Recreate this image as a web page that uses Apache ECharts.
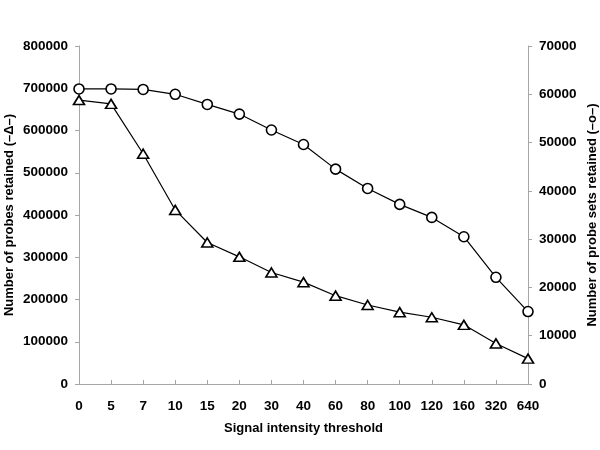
<!DOCTYPE html>
<html>
<head>
<meta charset="utf-8">
<script src="https://cdn.jsdelivr.net/npm/echarts@6/dist/echarts.min.js"></script>
<style>html,body{margin:0;padding:0;background:#fff}#c{width:600px;height:450px}</style>
</head>
<body>
<div id="c"></div>
<script>
var categories = ['0','5','7','10','15','20','30','40','60','80','100','120','160','320','640'];
var probes = [672000, 663000, 545000, 412000, 335000, 301000, 264000, 241000, 209000, 187000, 170000, 158000, 140000, 96000, 60000];
var probeSets = [61100, 61100, 61000, 60000, 57900, 55900, 52600, 49600, 44500, 40500, 37200, 34500, 30500, 22100, 15000];

var chart = echarts.init(document.getElementById('c'));
var font = 'Liberation Sans, Arial, sans-serif';
var axisColor = '#a6a6a6';
function plain(v) { return String(v); }
chart.setOption({
  backgroundColor: '#fff',
  animation: false,
  grid: {left: 79, right: 72, top: 46, bottom: 66, containLabel: false, outerBoundsMode: 'none'},
  xAxis: {
    type: 'category',
    data: categories,
    boundaryGap: false,
    name: 'Signal intensity threshold',
    nameLocation: 'middle',
    nameGap: 38,
    nameMoveOverlap: false,
    nameTextStyle: {fontFamily: font, fontWeight: 'bold', fontSize: 13, color: '#000'},
    axisLine: {lineStyle: {color: axisColor, width: 1}},
    axisTick: {inside: true, length: 4, lineStyle: {color: axisColor}, alignWithLabel: true},
    axisLabel: {fontFamily: font, fontWeight: 'bold', fontSize: 13.5, color: '#000', margin: 15, interval: 0}
  },
  yAxis: [{
    type: 'value',
    min: 0, max: 800000, interval: 100000,
    name: 'Number of probes retained (\u2013\u0394\u2013)',
    nameLocation: 'middle',
    nameRotate: 90,
    nameGap: 63,
    nameMoveOverlap: false,
    nameTextStyle: {fontFamily: font, fontWeight: 'bold', fontSize: 13, color: '#000'},
    axisLine: {show: true, lineStyle: {color: axisColor}},
    axisTick: {show: true, length: 4, lineStyle: {color: axisColor}},
    splitLine: {show: false},
    axisLabel: {fontFamily: font, fontWeight: 'bold', fontSize: 13.5, color: '#000', margin: 11, formatter: plain}
  }, {
    type: 'value',
    position: 'right',
    min: 0, max: 70000, interval: 10000,
    name: 'Number of probe sets retained (\u2013o\u2013)',
    nameLocation: 'middle',
    nameRotate: 90,
    nameGap: 58,
    nameMoveOverlap: false,
    nameTextStyle: {fontFamily: font, fontWeight: 'bold', fontSize: 13, color: '#000'},
    axisLine: {show: true, lineStyle: {color: axisColor}},
    axisTick: {show: true, length: 4, lineStyle: {color: axisColor}},
    splitLine: {show: false},
    axisLabel: {fontFamily: font, fontWeight: 'bold', fontSize: 13.5, color: '#000', margin: 11, formatter: plain}
  }],
  series: [{
    type: 'line',
    yAxisIndex: 0,
    data: probes,
    symbol: 'triangle',
    symbolSize: [11, 9],
    lineStyle: {color: '#000', width: 1.2},
    itemStyle: {color: '#fff', borderColor: '#000', borderWidth: 1.6}
  }, {
    type: 'line',
    yAxisIndex: 1,
    data: probeSets,
    symbol: 'circle',
    symbolSize: 10,
    lineStyle: {color: '#000', width: 1.2},
    itemStyle: {color: '#fff', borderColor: '#000', borderWidth: 1.6}
  }]
});
</script>
</body>
</html>
